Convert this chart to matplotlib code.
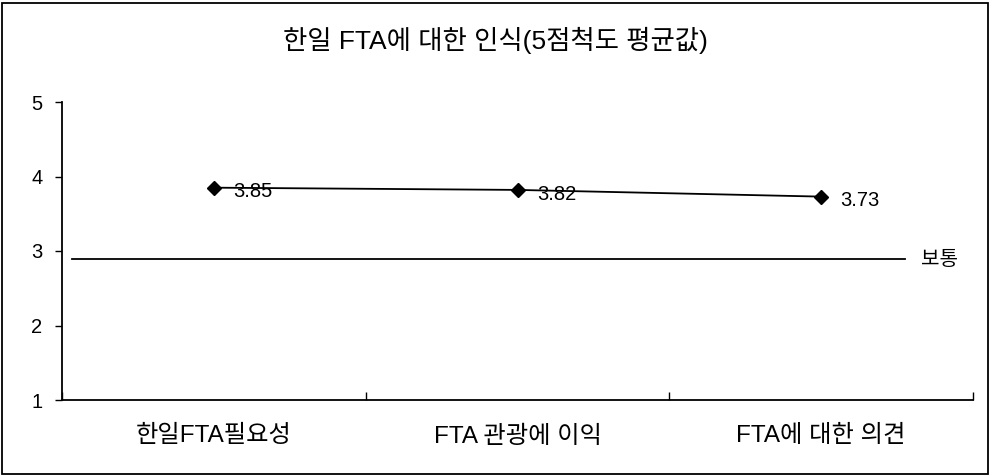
import matplotlib
matplotlib.use("Agg")
import matplotlib.pyplot as plt
from matplotlib.patches import Rectangle

plt.rcParams['font.family'] = ['Liberation Sans', 'Noto Sans CJK KR', 'DejaVu Sans']

title = "한일 FTA에 대한 인식(5점척도 평균값)"
categories = ["한일FTA필요성", "FTA 관광에 이익", "FTA에 대한 의견"]
means = [3.85, 3.82, 3.73]
normal_level = 2.89
normal_label = "보통"

fig = plt.figure(figsize=(9.9, 4.76), dpi=100)
ax = fig.add_axes([62 / 990, 1 - 400 / 476, (973 - 62) / 990, (400 - 102) / 476])

x = list(range(len(categories)))
ax.plot(x, means, color='black', linewidth=1.3, marker='D', markersize=7,
        markerfacecolor='black', markeredgecolor='black', zorder=3)
for xi, v in zip(x, means):
    ax.annotate(f"{v:.2f}", (xi, v), xytext=(14, -3), textcoords='offset points',
                ha='left', va='center', fontsize=14.5)

# reference line for the "normal" level
ax.plot([-0.467, 2.276], [normal_level, normal_level], color='black', linewidth=1.3)
ax.text(2.33, normal_level, normal_label, ha='left', va='center', fontsize=14.5)

ax.set_xlim(-0.5, 2.5)
ax.set_ylim(1, 5)
ax.set_yticks([1, 2, 3, 4, 5])
ax.tick_params(axis='y', direction='out', length=5, width=1, labelsize=14.5, pad=9)

# category axis: ticks sit between categories, labels centred under each point
ax.set_xticks([-0.5, 0.5, 1.5, 2.5])
ax.set_xticklabels([])
ax.tick_params(axis='x', direction='in', length=6, width=1)
for xi, name in zip(x, categories):
    ax.text(xi, -0.085, name, transform=ax.get_xaxis_transform(),
            ha='center', va='top', fontsize=17.5)

for side in ['top', 'right']:
    ax.spines[side].set_visible(False)
for side in ['left', 'bottom']:
    ax.spines[side].set_linewidth(1.3)

fig.text(495 / 990, 1 - 40 / 476, title, ha='center', va='center', fontsize=19)
fig.patches.append(Rectangle((2 / 990, 2 / 476), 986 / 990, 471 / 476,
                             transform=fig.transFigure, fill=False,
                             edgecolor='black', linewidth=1.3))

fig.savefig("out.png", dpi=100)
